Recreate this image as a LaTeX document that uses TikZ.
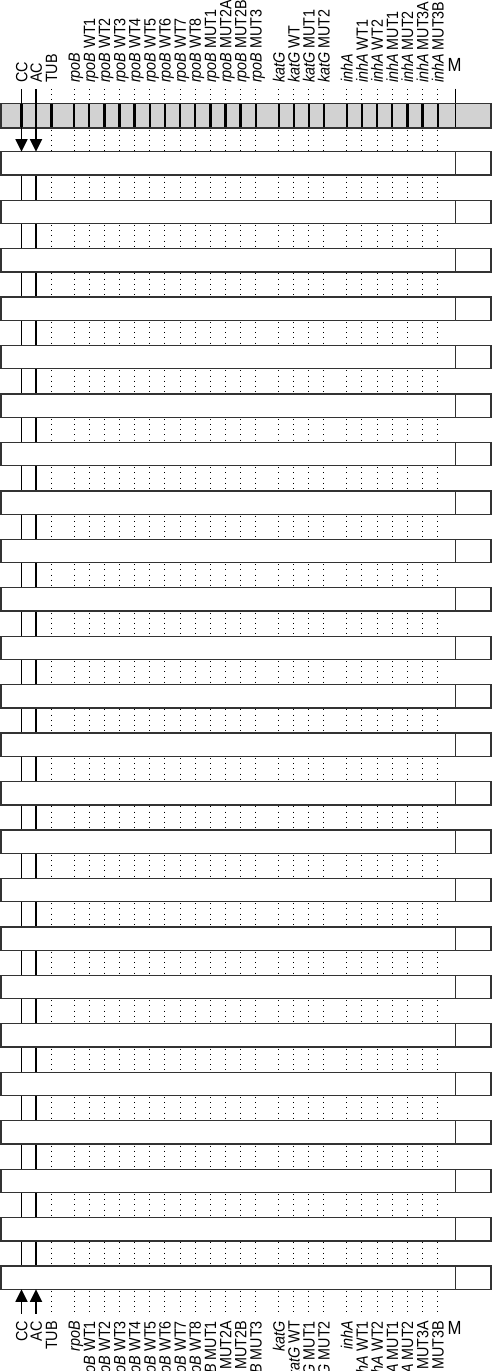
\documentclass[tikz,border=0pt]{standalone}
\usepackage{fontspec}
\setmainfont{Liberation Sans}
\newfontfamily\labfont[FakeStretch=0.88]{Liberation Sans}
\usetikzlibrary{arrows.meta}
\usepackage{xcolor}
\definecolor{BandGray}{HTML}{D2D2D2}
\definecolor{EdgeGray}{HTML}{333333}
\tikzset{
  strip/.style={draw=EdgeGray,line width=1.3pt,fill=white},
  band/.style={draw=EdgeGray,line width=1.3pt,fill=BandGray},
  bline/.style={line width=2.4pt,color=black},
  ctrl/.style={line width=1.5pt,color=black},
  probe/.style={line width=1pt,color=black,dash pattern=on 1pt off 4.2pt},
  arr/.style={-{Triangle[width=12pt,length=12.5pt]},line width=1.8pt,color=black},
  lab/.style={rotate=90,inner sep=0pt,font=\labfont\fontsize{16.3}{17}\selectfont},
  mlab/.style={inner sep=0pt,font=\labfont\fontsize{19}{20}\selectfont},
}

\begin{document}
\begin{tikzpicture}[x=1pt,y=1pt]

  \useasboundingbox (0,0) rectangle (494,-1371);

  \foreach \x/\name/\txt in {21.5/cc/CC,36/ac/AC,51.3/tub/TUB,
      74/rpo/\textit{rpoB},89.2/rpoWTa/\textit{rpoB} WT1,104.3/rpoWTb/\textit{rpoB} WT2,
      119.4/rpoWTc/\textit{rpoB} WT3,134.6/rpoWTd/\textit{rpoB} WT4,149.7/rpoWTe/\textit{rpoB} WT5,
      164.8/rpoWTf/\textit{rpoB} WT6,180/rpoWTg/\textit{rpoB} WT7,195.1/rpoWTh/\textit{rpoB} WT8,
      210.3/rpoMUTa/\textit{rpoB} MUT1,225.5/rpoMUTb/\textit{rpoB} MUT2A,
      240.6/rpoMUTc/\textit{rpoB} MUT2B,255.7/rpoMUTd/\textit{rpoB} MUT3,
      278.7/kat/\textit{katG},293.8/katWT/\textit{katG} WT,308.8/katMUTa/\textit{katG} MUT1,
      323.8/katMUTb/\textit{katG} MUT2,
      346.7/inh/\textit{inhA},361.9/inhWTa/\textit{inhA} WT1,377/inhWTb/\textit{inhA} WT2,
      392.2/inhMUTa/\textit{inhA} MUT1,407.3/inhMUTb/\textit{inhA} MUT2,
      422.5/inhMUTc/\textit{inhA} MUT3A,437.7/inhMUTd/\textit{inhA} MUT3B}{
    \node[lab,anchor=base west] (top-\name) at (\x+5.85,-83) {\txt};
    \node[lab,anchor=base east] (bot-\name) at (\x+5.85,-1321) {\txt};
  }
  \node[mlab] (top-M) at (454.7,-65.3) {M};
  \node[mlab] (bot-M) at (454.5,-1328) {M};

  \fill[BandGray] (1,-103.5) rectangle (491,-128);
  \foreach \x in {21.5,36,51.3,74,89.2,104.3,119.4,134.6,149.7,164.8,180,195.1,
                  210.3,225.5,240.6,255.7,278.7,293.8,308.8,323.8,
                  346.7,361.9,377,392.2,407.3,422.5,437.7}
    \draw[bline] (\x,-103.5) -- (\x,-128);
  \draw[ctrl] (455.3,-88.5) -- (455.3,-128);
  \draw[band,fill=none] (1,-103.5) rectangle (491,-128);

  \foreach \x in {51.3,74,89.2,104.3,119.4,134.6,149.7,164.8,180,195.1,
                  210.3,225.5,240.6,255.7,278.7,293.8,308.8,323.8,
                  346.7,361.9,377,392.2,407.3,422.5,437.7}{
    \draw[probe] (\x,-89) -- (\x,-103.5);
    \draw[probe] (\x,-129.5) -- (\x,-151.7);
    \draw[probe] (\x,-1290.5) -- (\x,-1313.5);
  }

  \foreach \k in {0,...,22}{
    \pgfmathsetmacro{\ya}{-(151.7+48.45*\k+23.3)}
    \pgfmathsetmacro{\yb}{-(151.7+48.45*(\k+1))}
    \draw[ctrl] (21.5,\ya) -- (21.5,\yb);
    \draw[ctrl] (36,\ya) -- (36,\yb);
    \foreach \x in {51.3,74,89.2,104.3,119.4,134.6,149.7,164.8,180,195.1,
                    210.3,225.5,240.6,255.7,278.7,293.8,308.8,323.8,
                    346.7,361.9,377,392.2,407.3,422.5,437.7}
      \draw[probe] (\x,\ya-1.5) -- (\x,\yb);
  }

  \foreach \k in {0,...,23}{
    \pgfmathsetmacro{\yt}{-(151.7+48.45*\k)}
    \draw[strip] (1,\yt) rectangle (491,\yt-23.3);
    \draw[strip] (455.3,\yt) -- (455.3,\yt-23.3);
  }

  \draw[arr] (top-cc.base west) ++(-5.85,-6) -- (21.5,-151.7);
  \draw[arr] (top-ac.base west) ++(-5.85,-6) -- (36,-151.7);
  \draw[arr] (bot-cc.base east) ++(-5.85,7.5) -- (21.5,-1289.3);
  \draw[arr] (bot-ac.base east) ++(-5.85,7.5) -- (36,-1289.3);

\end{tikzpicture}
\end{document}
